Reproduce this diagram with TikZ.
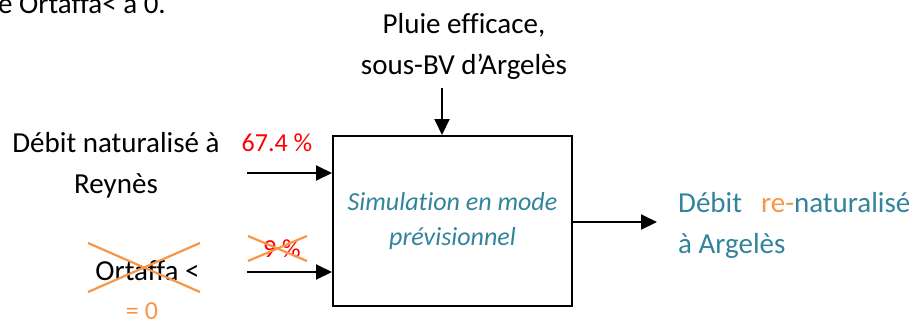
\documentclass[tikz,border=0pt]{standalone}
\usepackage{fontspec}
\setmainfont{Carlito}[Ligatures=NoCommon]
\usetikzlibrary{arrows.meta}
\definecolor{teal}{HTML}{31849B}
\definecolor{orng}{HTML}{F79646}
\begin{document}
\begin{tikzpicture}[x=1bp,y=-1bp,
  txt/.style={font=\fontsize{29bp}{41bp}\selectfont, inner sep=0pt, align=center},
  lbl/.style={font=\fontsize{26bp}{32bp}\selectfont, inner sep=0pt},
  conn/.style={line width=2bp, -{Triangle[length=16bp,width=15bp]}},
  cross/.style={line width=2.2bp, orng}]
\useasboundingbox (0,0) rectangle (919,320);
\node[txt, anchor=base east] (toptxt) at (166,13) {e Ortaffa< à 0.};
\node[draw, line width=2bp, minimum width=239bp, minimum height=170bp, inner sep=0pt,
  align=center, text=teal, font=\fontsize{26bp}{35bp}\selectfont\itshape] (sim) at (452.5,221)
  {Simulation en mode\\prévisionnel};
\node[txt, anchor=base] (pluie) at (464,74) {Pluie efficace,\\sous-BV d’Argelès};
\coordinate (ptop) at (442,88);
\draw[conn] (ptop) -- (ptop |- sim.north);
\node[txt, anchor=base] (reynes) at (116,193) {Débit naturalisé à\\Reynès};
\node[lbl, anchor=base, text=red] (p67) at (277,151) {67.4 \%};
\coordinate (a1) at (247,173);
\draw[conn] (a1) -- (a1 -| sim.west);
\node[txt, anchor=base] (ortaffa) at (147.5,280) {Ortaffa <};
\node[lbl, anchor=base, text=orng] (eq0) at (142,319) {= 0};
\node[lbl, anchor=base, text=red] (p9) at (282,257) {9 \%};
\coordinate (a2) at (247,272);
\draw[conn] (a2) -- (a2 -| sim.west);
\coordinate (x1a) at (248,236); \coordinate (x1b) at (307,261);
\coordinate (x1c) at (248,261); \coordinate (x1d) at (307,236);
\draw[cross] (x1a) -- (x1b); \draw[cross] (x1c) -- (x1d);
\coordinate (x2a) at (88,243); \coordinate (x2b) at (200,292);
\coordinate (x2c) at (88,292); \coordinate (x2d) at (200,243);
\draw[cross] (x2a) -- (x2b); \draw[cross] (x2c) -- (x2d);
\coordinate (oend) at (657,222);
\draw[conn] (sim.east |- oend) -- (oend);
\node[txt, anchor=base west, align=left, text=teal] (out) at (678,253)
  {Débit\hspace{19bp}\textcolor{orng}{re-}naturalisé\\à Argelès};
\end{tikzpicture}
\end{document}
